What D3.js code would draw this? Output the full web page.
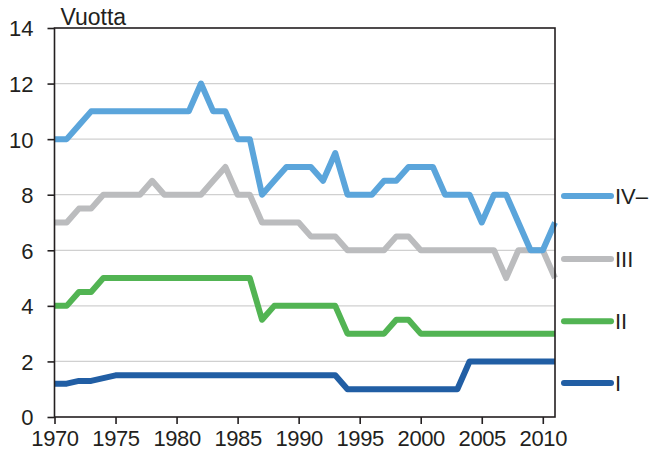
<!DOCTYPE html>
<html>
<head>
<meta charset="utf-8">
<script src="https://cdn.jsdelivr.net/npm/d3@7/dist/d3.min.js"></script>
<style>
  body { margin: 0; background: #fff; }
  svg text { font-family: "Liberation Sans", Arial, sans-serif; fill: #231f20; }
</style>
</head>
<body>
<svg id="chart" width="649" height="456"></svg>
<script>
// years 1970..2011
var years = d3.range(1970, 2012);

var seriesNames = ["IV–", "III", "II", "I"];
var seriesColors = ["#5ba5db", "#bbbcbe", "#52b453", "#215ea4"];

var valuesIV = [10, 10, 10.5, 11, 11, 11, 11, 11, 11, 11, 11, 11, 12, 11, 11, 10, 10, 8, 8.5, 9,
                9, 9, 8.5, 9.5, 8, 8, 8, 8.5, 8.5, 9, 9, 9, 8, 8, 8, 7, 8, 8, 7, 6, 6, 7];
var valuesIII = [7, 7, 7.5, 7.5, 8, 8, 8, 8, 8.5, 8, 8, 8, 8, 8.5, 9, 8, 8, 7, 7, 7,
                 7, 6.5, 6.5, 6.5, 6, 6, 6, 6, 6.5, 6.5, 6, 6, 6, 6, 6, 6, 6, 5, 6, 6, 6, 5];
var valuesII = [4, 4, 4.5, 4.5, 5, 5, 5, 5, 5, 5, 5, 5, 5, 5, 5, 5, 5, 3.5, 4, 4,
                4, 4, 4, 4, 3, 3, 3, 3, 3.5, 3.5, 3, 3, 3, 3, 3, 3, 3, 3, 3, 3, 3, 3];
var valuesI = [1.2, 1.2, 1.3, 1.3, 1.4, 1.5, 1.5, 1.5, 1.5, 1.5, 1.5, 1.5, 1.5, 1.5, 1.5, 1.5, 1.5, 1.5, 1.5, 1.5,
               1.5, 1.5, 1.5, 1.5, 1, 1, 1, 1, 1, 1, 1, 1, 1, 1, 2, 2, 2, 2, 2, 2, 2, 2];

var legendValues = [7.95, 5.69, 3.45, 1.22]; // vertical spots of legend rows, in axis units
var yTicks = [0, 2, 4, 6, 8, 10, 12, 14];
var xTicks = d3.range(1970, 2011, 5);

var svg = d3.select("#chart");
var margin = {top: 28, left: 54.5, right: 94, bottom: 39};
var w = 649 - margin.left - margin.right,
    h = 456 - margin.top - margin.bottom;

var x = d3.scaleLinear().domain([1970, 2011]).range([0, w]);
var y = d3.scaleLinear().domain([0, 14]).range([h, 0]);

var g = svg.append("g").attr("transform", "translate(" + margin.left + "," + margin.top + ")");

// grid
g.append("g")
  .selectAll("line")
  .data(yTicks.filter(function(d) { return d > 0 && d < 14; }))
  .enter().append("line")
    .attr("x1", 0).attr("x2", w)
    .attr("y1", function(d) { return y(d); })
    .attr("y2", function(d) { return y(d); })
    .attr("stroke", "#d0d0d0")
    .attr("stroke-width", 1.2);

// series
var all = [valuesIV, valuesIII, valuesII, valuesI];
var line = d3.line()
  .x(function(d, i) { return x(years[i]); })
  .y(function(d) { return y(d); });

// draw bottom series first so IV ends on top
for (var n = all.length - 1; n >= 0; n--) {
  g.append("path")
    .datum(all[n])
    .attr("d", line)
    .attr("fill", "none")
    .attr("stroke", seriesColors[n])
    .attr("stroke-width", 6)
    .attr("stroke-linejoin", "round");
}

// frame
g.append("rect")
  .attr("x", 0).attr("y", 0)
  .attr("width", w).attr("height", h)
  .attr("fill", "none")
  .attr("stroke", "#231f20")
  .attr("stroke-width", 1.6);

// axes
var yAxis = g.append("g")
  .call(d3.axisLeft(y).tickValues(yTicks).tickSize(7).tickPadding(14));
var xAxis = g.append("g")
  .attr("transform", "translate(0," + h + ")")
  .call(d3.axisBottom(x).tickValues(xTicks).tickFormat(d3.format("d")).tickSize(7).tickPadding(6));

[yAxis, xAxis].forEach(function(a) {
  a.select(".domain").remove();
  a.selectAll(".tick line").attr("stroke", "#231f20").attr("stroke-width", 1.6);
  a.selectAll(".tick text")
    .attr("font-family", "Liberation Sans, Arial, sans-serif")
    .attr("font-size", 22)
    .attr("fill", "#231f20");
});
yAxis.selectAll(".tick text").attr("dy", "0.36em");
xAxis.selectAll(".tick text").attr("dy", "0.72em").attr("letter-spacing", -0.4);

// unit label
g.append("text")
  .attr("x", 6)
  .attr("y", -3)
  .attr("font-size", 23)
  .text("Vuotta");

// legend
var leg = g.append("g").attr("transform", "translate(" + (w + 7) + ",0)");
seriesNames.forEach(function(name, i) {
  var yy = y(legendValues[i]);
  leg.append("line")
    .attr("x1", 2).attr("x2", 49)
    .attr("y1", yy).attr("y2", yy)
    .attr("stroke", seriesColors[i])
    .attr("stroke-width", 6)
    .attr("stroke-linecap", "round");
  leg.append("text")
    .attr("x", 53)
    .attr("y", yy)
    .attr("dy", "0.36em")
    .attr("font-size", 22)
    .text(name);
});
</script>
</body>
</html>
